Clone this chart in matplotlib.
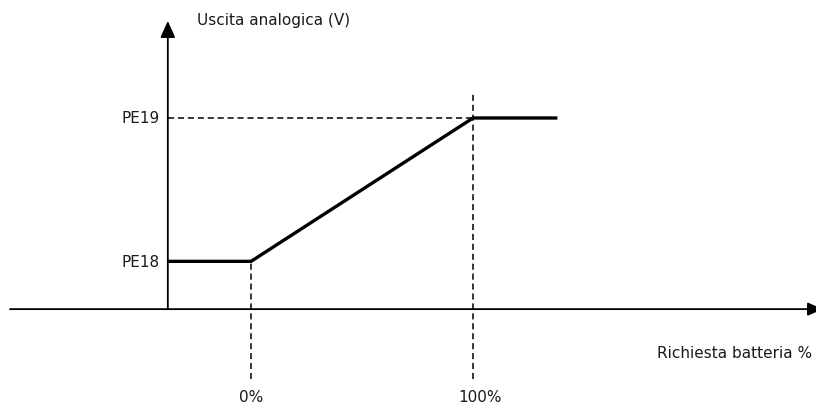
"""
Analog output vs battery request: schematic ramp between PE18 and PE19.
"""

import matplotlib
matplotlib.use("Agg")
import matplotlib.pyplot as plt

# ── data ─────────────────────────────────────────────────────────────────────
# x: battery request (%), y: analog output in units of PE18 (PE18 = 1)
request_pct = [-37.5, 0, 100, 138]
output_level = [1, 1, 4, 4]

pe_labels = ["PE18", "PE19"]
pe_levels = [1, 4]

pct_ticks = [0, 100]
pct_labels = ["0%", "100%"]

y_axis_x = -37.5          # where the vertical axis crosses
x_limits = (-113.1, 254.5)
y_limits = (-2.09, 6.49)

TEXT = "#1a1a1a"
DASH = (0, (4, 2.5))
FS = 11

# ── plotting ─────────────────────────────────────────────────────────────────
fig = plt.figure(figsize=(8.16, 4.10), dpi=100)
ax = fig.add_axes([0, 0, 1, 1])
ax.set_xlim(*x_limits)
ax.set_ylim(*y_limits)
ax.axis("off")

# axes with arrow heads
ax.annotate("", xy=(x_limits[1] + 3, 0), xytext=(x_limits[0] + 4.5, 0),
            annotation_clip=False,
            arrowprops=dict(arrowstyle="-|>,head_length=0.9,head_width=0.4",
                            color="black", lw=1.3, shrinkA=0, shrinkB=0))
ax.annotate("", xy=(y_axis_x, 6.03), xytext=(y_axis_x, 0),
            annotation_clip=False,
            arrowprops=dict(arrowstyle="-|>,head_length=1.0,head_width=0.45",
                            color="black", lw=1.3, shrinkA=0, shrinkB=0))

# dashed guides
ax.plot([y_axis_x, pct_ticks[1]], [pe_levels[1], pe_levels[1]],
        color="black", lw=1.1, linestyle=DASH)
ax.plot([pct_ticks[0], pct_ticks[0]], [-1.46, pe_levels[0]],
        color="black", lw=1.1, linestyle=DASH)
ax.plot([pct_ticks[1], pct_ticks[1]], [-1.46, 4.57],
        color="black", lw=1.1, linestyle=DASH)

# response curve
ax.plot(request_pct, output_level, color="black", lw=2.4,
        solid_capstyle="butt", solid_joinstyle="miter")

# labels
for lbl, lvl in zip(pe_labels, pe_levels):
    ax.text(y_axis_x - 3.5, lvl, lbl, ha="right", va="center",
            fontsize=FS, color=TEXT)
for lbl, p in zip(pct_labels, pct_ticks):
    ax.text(p + (3 if p else 0), -1.83, lbl, ha="center", va="center",
            fontsize=FS, color=TEXT)

ax.text(y_axis_x + 13, 6.07, "Uscita analogica (V)", ha="left",
        va="center", fontsize=FS, color=TEXT)
ax.text(183, -0.91, "Richiesta batteria %", ha="left", va="center",
        fontsize=FS, color=TEXT)

fig.savefig("out.png", dpi=100)
